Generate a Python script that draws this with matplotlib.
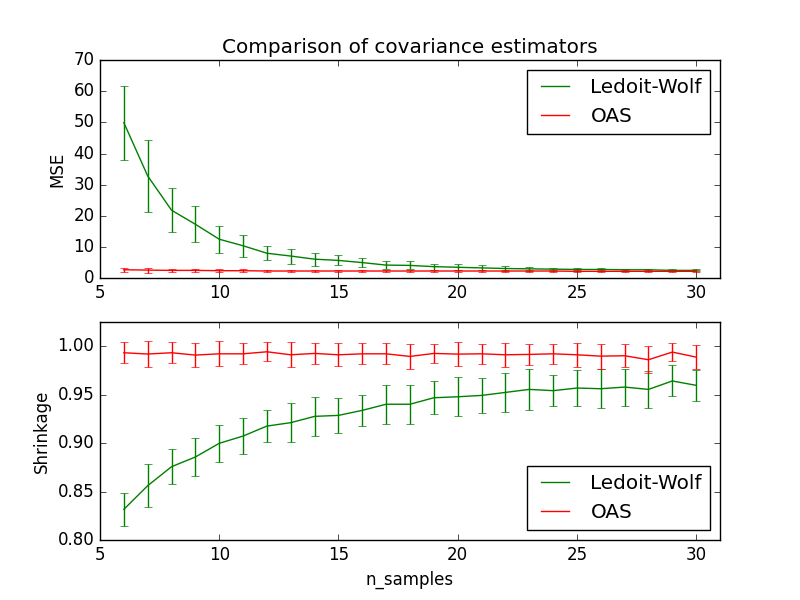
import matplotlib
matplotlib.use('Agg')
import matplotlib.pyplot as plt
import numpy as np

plt.style.use('classic')

n_samples = np.arange(6, 31)

lw_mse = [49.9, 32.8, 21.8, 17.3, 12.5, 10.4, 8.0, 7.1, 6.1, 5.7, 5.0, 4.2, 4.1,
          3.7, 3.5, 3.3, 3.1, 3.0, 2.9, 2.8, 2.8, 2.7, 2.7, 2.5, 2.5]
lw_mse_std = [11.9, 11.5, 7.0, 5.8, 4.4, 3.6, 2.3, 2.4, 2.1, 1.6, 1.4, 1.2, 1.3,
              1.0, 0.9, 0.8, 0.7, 0.6, 0.5, 0.5, 0.4, 0.4, 0.4, 0.3, 0.3]
oas_mse = [2.7, 2.6, 2.5, 2.5, 2.4, 2.4, 2.3, 2.3, 2.3, 2.3, 2.3, 2.3, 2.3,
           2.3, 2.3, 2.3, 2.3, 2.3, 2.3, 2.2, 2.2, 2.2, 2.2, 2.2, 2.2]
oas_mse_std = [0.6, 0.8, 0.6, 0.6, 0.5, 0.5, 0.3, 0.3, 0.3, 0.3, 0.3, 0.3, 0.3,
               0.3, 0.3, 0.3, 0.3, 0.3, 0.3, 0.3, 0.3, 0.3, 0.3, 0.3, 0.3]

lw_shrink = [0.8316, 0.856, 0.8756, 0.8856, 0.8997, 0.9072, 0.9175, 0.921, 0.9275,
             0.9285, 0.9337, 0.940, 0.940, 0.9467, 0.9477, 0.9491, 0.9522, 0.9553,
             0.954, 0.9567, 0.956, 0.9577, 0.9553, 0.964, 0.9595]
lw_shrink_std = [0.017, 0.022, 0.018, 0.020, 0.019, 0.019, 0.0165, 0.020, 0.020,
                 0.018, 0.016, 0.020, 0.020, 0.017, 0.020, 0.018, 0.020, 0.021,
                 0.016, 0.019, 0.020, 0.019, 0.019, 0.016, 0.016]
oas_shrink = [0.9931, 0.9918, 0.9931, 0.9907, 0.992, 0.992, 0.9941, 0.991, 0.9924,
              0.991, 0.992, 0.992, 0.9893, 0.9924, 0.9917, 0.992, 0.991, 0.9914,
              0.992, 0.991, 0.9896, 0.990, 0.9859, 0.9938, 0.9886]
oas_shrink_std = [0.011, 0.013, 0.011, 0.012, 0.013, 0.011, 0.010, 0.013, 0.011,
                  0.012, 0.011, 0.011, 0.0125, 0.010, 0.012, 0.010, 0.0125, 0.011,
                  0.010, 0.0125, 0.013, 0.0117, 0.0137, 0.0093, 0.012]

fig = plt.figure(figsize=(8, 6), dpi=100)

plt.subplot(211)
c1 = plt.errorbar(n_samples, lw_mse, yerr=lw_mse_std, label='Ledoit-Wolf', color='g')
c2 = plt.errorbar(n_samples, oas_mse, yerr=oas_mse_std, label='OAS', color='r')
plt.ylabel("MSE")
plt.legend([c1.lines[0], c2.lines[0]], ['Ledoit-Wolf', 'OAS'], loc="upper right")
plt.title("Comparison of covariance estimators")
plt.xlim(5, 31)
plt.ylim(0, 70)

plt.subplot(212)
c1 = plt.errorbar(n_samples, lw_shrink, yerr=lw_shrink_std, label='Ledoit-Wolf', color='g')
c2 = plt.errorbar(n_samples, oas_shrink, yerr=oas_shrink_std, label='OAS', color='r')
plt.xlabel("n_samples")
plt.ylabel("Shrinkage")
plt.legend([c1.lines[0], c2.lines[0]], ['Ledoit-Wolf', 'OAS'], loc="lower right")
plt.ylim(0.80, 1.025)
plt.xlim(5, 31)

plt.savefig('out.png', dpi=100)
